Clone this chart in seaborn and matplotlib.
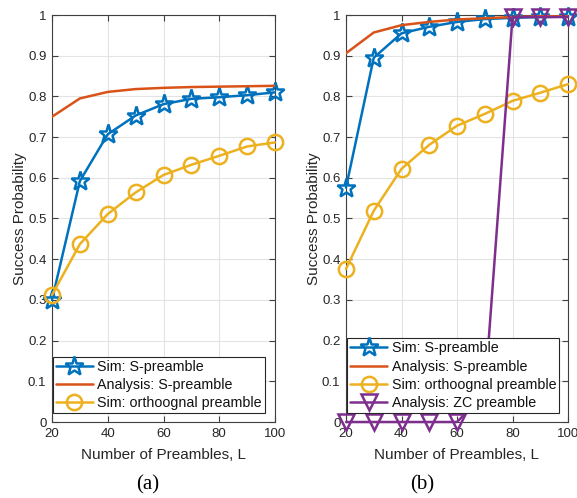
import matplotlib
matplotlib.use("Agg")
import matplotlib.pyplot as plt
import seaborn as sns
import numpy as np

L = [20, 30, 40, 50, 60, 70, 80, 90, 100]

# Panel (a)
a_sim_s = [0.300, 0.592, 0.707, 0.753, 0.781, 0.794, 0.798, 0.803, 0.810]
a_ana_s = [0.750, 0.795, 0.811, 0.818, 0.821, 0.823, 0.824, 0.825, 0.826]
a_sim_orth = [0.312, 0.437, 0.511, 0.564, 0.607, 0.632, 0.654, 0.677, 0.687]

# Panel (b)
b_sim_s = [0.576, 0.895, 0.955, 0.971, 0.983, 0.990, 0.993, 0.995, 0.996]
b_ana_s = [0.906, 0.957, 0.975, 0.983, 0.989, 0.992, 0.995, 0.997, 0.998]
b_sim_orth = [0.376, 0.519, 0.622, 0.681, 0.728, 0.757, 0.789, 0.809, 0.830]
b_ana_zc = [0.0, 0.0, 0.0, 0.0, 0.0, 0.07, 0.995, 0.995, 0.995]

xticks = [20, 40, 60, 80, 100]
yticks = [0, 0.1, 0.2, 0.3, 0.4, 0.5, 0.6, 0.7, 0.8, 0.9, 1]
ytick_labels = ["0", "0.1", "0.2", "0.3", "0.4", "0.5", "0.6", "0.7", "0.8", "0.9", "1"]

labels = ["Sim: S-preamble", "Analysis: S-preamble", "Sim: orthoognal preamble",
          "Analysis: ZC preamble"]

C_BLUE = "#0072BD"
C_RED = "#D95319"
C_YEL = "#EDB120"
C_PUR = "#7E2F8E"

sns.set_theme(style="white")
plt.rcParams["font.family"] = ["Liberation Sans", "DejaVu Sans"]

fig = plt.figure(figsize=(5.77, 4.98), dpi=100)
W, H = 577, 498
axA = fig.add_axes([52 / W, 1 - 422 / H, (275 - 52) / W, (422 - 15) / H])
axB = fig.add_axes([346 / W, 1 - 422 / H, (568 - 346) / W, (422 - 15) / H])

TXT = "#262626"


def style_axis(ax):
    ax.set_xlim(20, 100)
    ax.set_ylim(0, 1)
    ax.set_xticks(xticks)
    ax.set_xticklabels([str(t) for t in xticks])
    ax.set_yticks(yticks)
    ax.set_yticklabels(ytick_labels)
    ax.grid(True, color="#e3e3e3", linewidth=0.8)
    ax.set_axisbelow(True)
    ax.tick_params(direction="in", length=4, width=0.8, colors="#404040",
                   labelcolor=TXT, labelsize=9.5, top=True, right=True,
                   bottom=True, left=True, pad=4)
    for s in ax.spines.values():
        s.set_color("#404040")
        s.set_linewidth(0.8)
    ax.set_xlabel("Number of Preambles, L", fontsize=11, color=TXT, labelpad=6)
    ax.set_ylabel("Success Probability", fontsize=11, color=TXT, labelpad=1)


def draw(ax, y, color, marker, label, ms=11, mew=1.6):
    sns.lineplot(x=L, y=y, ax=ax, color=color, linewidth=1.8, label=label,
                 marker=marker if marker else None,
                 markersize=ms, markerfacecolor="none" if marker else None,
                 markeredgecolor=color, markeredgewidth=mew, clip_on=False,
                 zorder=3)


draw(axA, a_sim_s, C_BLUE, "*", labels[0], ms=14, mew=1.8)
sns.lineplot(x=L, y=a_ana_s, ax=axA, color=C_RED, linewidth=1.8, label=labels[1], zorder=3)
draw(axA, a_sim_orth, C_YEL, "o", labels[2], ms=11, mew=1.8)

draw(axB, b_sim_s, C_BLUE, "*", labels[0], ms=14, mew=1.8)
sns.lineplot(x=L, y=b_ana_s, ax=axB, color=C_RED, linewidth=1.8, label=labels[1], zorder=3)
draw(axB, b_sim_orth, C_YEL, "o", labels[2], ms=11, mew=1.8)
draw(axB, b_ana_zc, C_PUR, "v", labels[3], ms=11, mew=1.8)

for ax in (axA, axB):
    style_axis(ax)

leg_kw = dict(loc="lower left", fontsize=10.3, frameon=True, fancybox=False,
              framealpha=1, edgecolor="#262626", handlelength=2.6,
              borderpad=0.2, labelspacing=0.3, handletextpad=0.3,
              borderaxespad=0)
legA = axA.legend(bbox_to_anchor=(0.003, 0.022), **leg_kw)
legB = axB.legend(bbox_to_anchor=(0.006, 0.022), **leg_kw)
for leg in (legA, legB):
    leg.get_frame().set_linewidth(0.8)
    leg.set_zorder(10)
    for t in leg.get_texts():
        t.set_color("#111111")

fig.text(148 / W, 1 - 485 / H, "(a)", ha="center", va="center",
         fontsize=15, family="Liberation Serif", color="black")
fig.text(422 / W, 1 - 485 / H, "(b)", ha="center", va="center",
         fontsize=15, family="Liberation Serif", color="black")

fig.savefig("out.png", dpi=100, facecolor="white")
